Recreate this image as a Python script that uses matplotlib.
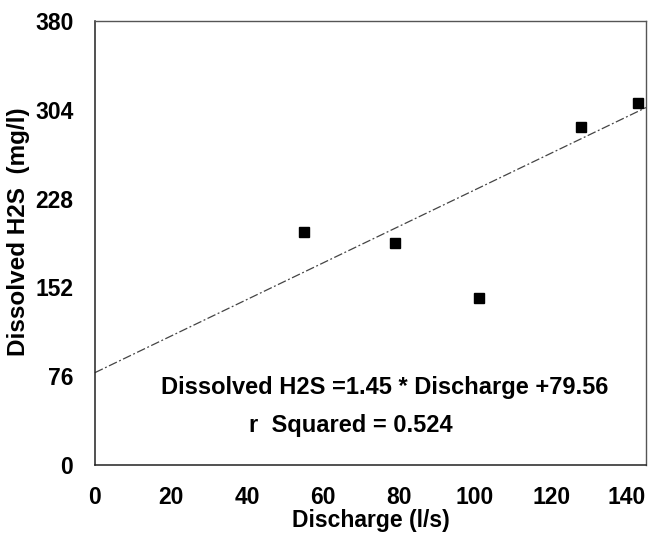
import matplotlib.pyplot as plt

plt.rcParams['font.family'] = ['Liberation Sans', 'DejaVu Sans']
plt.rcParams['font.weight'] = 'bold'

# measured points
discharge = [55, 79, 101, 128, 143]
h2s = [199, 190, 143, 289, 310]

# regression line as drawn
fit_x = [0, 145]
fit_y = [79, 306]

x_ticks = [0, 20, 40, 60, 80, 100, 120, 140]
y_ticks = [0, 76, 152, 228, 304, 380]

fig = plt.figure(figsize=(6.5, 5.4), dpi=100)
ax = fig.add_axes([0.146, 0.139, 0.848, 0.822])

ax.plot(fit_x, fit_y, color='#444444', linewidth=0.9,
        linestyle=(0, (7, 2, 1.5, 2)), clip_on=False)
ax.plot(discharge, h2s, linestyle='none', marker='s', markersize=6.5,
        color='black')

ax.set_xlim(0, 145)
ax.set_ylim(0, 380)
ax.set_xticks(x_ticks)
ax.set_yticks(y_ticks)
ax.tick_params(length=0, labelsize=16.5, pad=15.5)
ax.tick_params(axis='y', pad=15.5)

ax.set_xlabel('Discharge (l/s)', fontsize=16.5, fontweight='bold', labelpad=0)
ax.set_ylabel('Dissolved H2S  (mg/l)', fontsize=17.5, fontweight='bold')
ax.yaxis.set_label_coords(-0.118, 0.525)

for side in ['left', 'bottom']:
    ax.spines[side].set_color('#222222')
    ax.spines[side].set_linewidth(1.1)
for side in ['top', 'right']:
    ax.spines[side].set_color('#555555')
    ax.spines[side].set_linewidth(1.0)

ax.text(17.5, 66, 'Dissolved H2S =1.45 * Discharge +79.56', fontsize=17,
        fontweight='bold', va='center')
ax.text(40.5, 34, 'r  Squared = 0.524', fontsize=17, fontweight='bold',
        va='center')

fig.savefig('out.png', dpi=100)
